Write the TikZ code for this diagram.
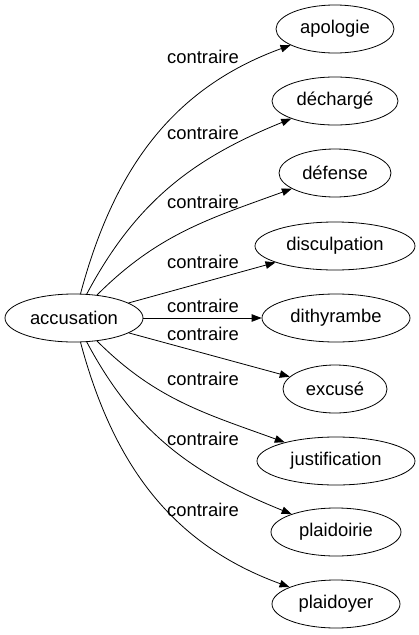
\documentclass[tikz,border=0pt]{standalone}
\usepackage{fontspec}
\setmainfont{Liberation Sans}
\usetikzlibrary{shapes.geometric,arrows.meta}
\tikzset{
	mot/.style={draw, ellipse, inner sep=0pt, minimum height=48, line width=0.8pt, font=\fontsize{18.4}{22}\selectfont},
	lbl/.style={inner sep=0pt, font=\fontsize{18.4}{22}\selectfont},
	fl/.style={-{Triangle[length=10pt,width=7.5pt]}, line width=0.8pt}
}

\begin{document}
\begin{tikzpicture}[x=1pt,y=1pt]
		\useasboundingbox (0,0) rectangle (418,-635);
		%Words
		\node[mot, minimum width=138] (acc) at (74,-318) {accusation};
		\node[mot, minimum width=118] (apo) at (335,-29) {apologie};
		\node[mot, minimum width=126] (dec) at (335,-101) {déchargé};
		\node[mot, minimum width=112] (def) at (335,-173) {défense};
		\node[mot, minimum width=160] (dis) at (335,-246) {disculpation};
		\node[mot, minimum width=148] (dit) at (336,-318) {dithyrambe};
		\node[mot, minimum width=104] (exc) at (335,-389) {excusé};
		\node[mot, minimum width=158] (jus) at (336,-461) {justification};
		\node[mot, minimum width=130] (plr) at (336,-532) {plaidoirie};
		\node[mot, minimum width=128] (ply) at (336,-604) {plaidoyer};
		%Arrows
		\draw[fl] (acc) to[out=75,in=200] (apo);
		\draw[fl] (acc) to[out=62,in=202] (dec);
		\draw[fl] (acc) to[out=45,in=200] (def);
		\draw[fl] (acc) -- (dis);
		\draw[fl] (acc) -- (dit);
		\draw[fl] (acc) -- (exc);
		\draw[fl] (acc) to[out=-45,in=160] (jus);
		\draw[fl] (acc) to[out=-62,in=158] (plr);
		\draw[fl] (acc) to[out=-75,in=160] (ply);
		%Labels
		\node[lbl] (c1) at (203,-57) {contraire};
		\node[lbl] (c2) at (203,-133) {contraire};
		\node[lbl] (c3) at (203,-202) {contraire};
		\node[lbl] (c4) at (203,-262) {contraire};
		\node[lbl] (c5) at (203,-306) {contraire};
		\node[lbl] (c6) at (203,-334) {contraire};
		\node[lbl] (c7) at (203,-379) {contraire};
		\node[lbl] (c8) at (203,-439) {contraire};
		\node[lbl] (c9) at (203,-510) {contraire};
\end{tikzpicture}
\end{document}
